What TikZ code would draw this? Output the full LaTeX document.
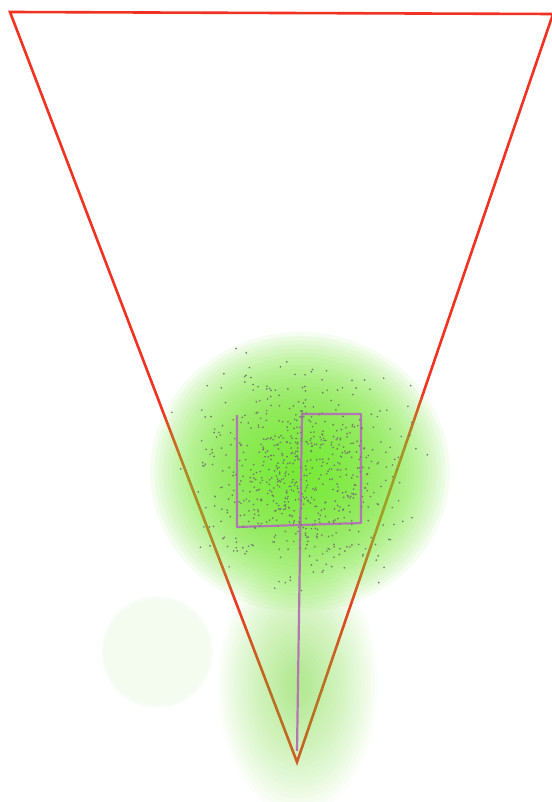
\documentclass[tikz,border=0pt]{standalone}
\definecolor{tri}{RGB}{240,50,35}
\definecolor{blobg}{RGB}{115,234,45}
\definecolor{pathc}{RGB}{180,118,178}
\definecolor{dotc}{RGB}{115,125,105}
\definecolor{faintg}{RGB}{244,252,240}
\tikzset{
  trianglec/.style={draw=tri, line width=2.6pt, line join=miter},
  walk/.style={draw=pathc, line width=2.2pt, line join=round},
  dotmark/.style={fill=dotc}
}
\begin{document}
\begin{tikzpicture}[x=1pt,y=-1pt]
\useasboundingbox (0,0) rectangle (551,802);
\fill[white] (0,0) rectangle (551,802);
% red field-of-view triangle
\draw[trianglec] (10,12) -- (553,14) -- (297,762) -- cycle;
% faint circle
\foreach \k in {1,...,6}{
  \fill[faintg, opacity=0.35] (157,652) circle ({50+\k});
}
% lower green column
\foreach \k in {1,...,24}{
  \fill[blobg, opacity=0.026] (298,685) ellipse ({80*\k/24} and {130*\k/24});
}
% main green blob
\foreach \k in {1,...,34}{
  \fill[blobg, opacity=0.07] (300,472) ellipse ({150*\k/34} and {140*\k/34});
}
% purple path
\coordinate (p0) at (237,415);
\coordinate (p1) at (237,527);
\coordinate (p2) at (361,523);
\coordinate (p3) at (361,414);
\coordinate (p4) at (302,414);
\coordinate (p5) at (297,751);
\draw[walk] (p0) -- (p1) -- (p2) -- (p3) -- (p4) -- (p5);
% scattered particles
\pgfmathsetseed{7}
\foreach \i in {1,...,700}{
  \pgfmathsetmacro\dx{302+48*(rand+rand+rand)}
  \pgfmathsetmacro\dy{472+47*(rand+rand+rand)}
  \fill[dotmark] (\dx,\dy) circle (0.95);
}
\end{tikzpicture}
\end{document}
